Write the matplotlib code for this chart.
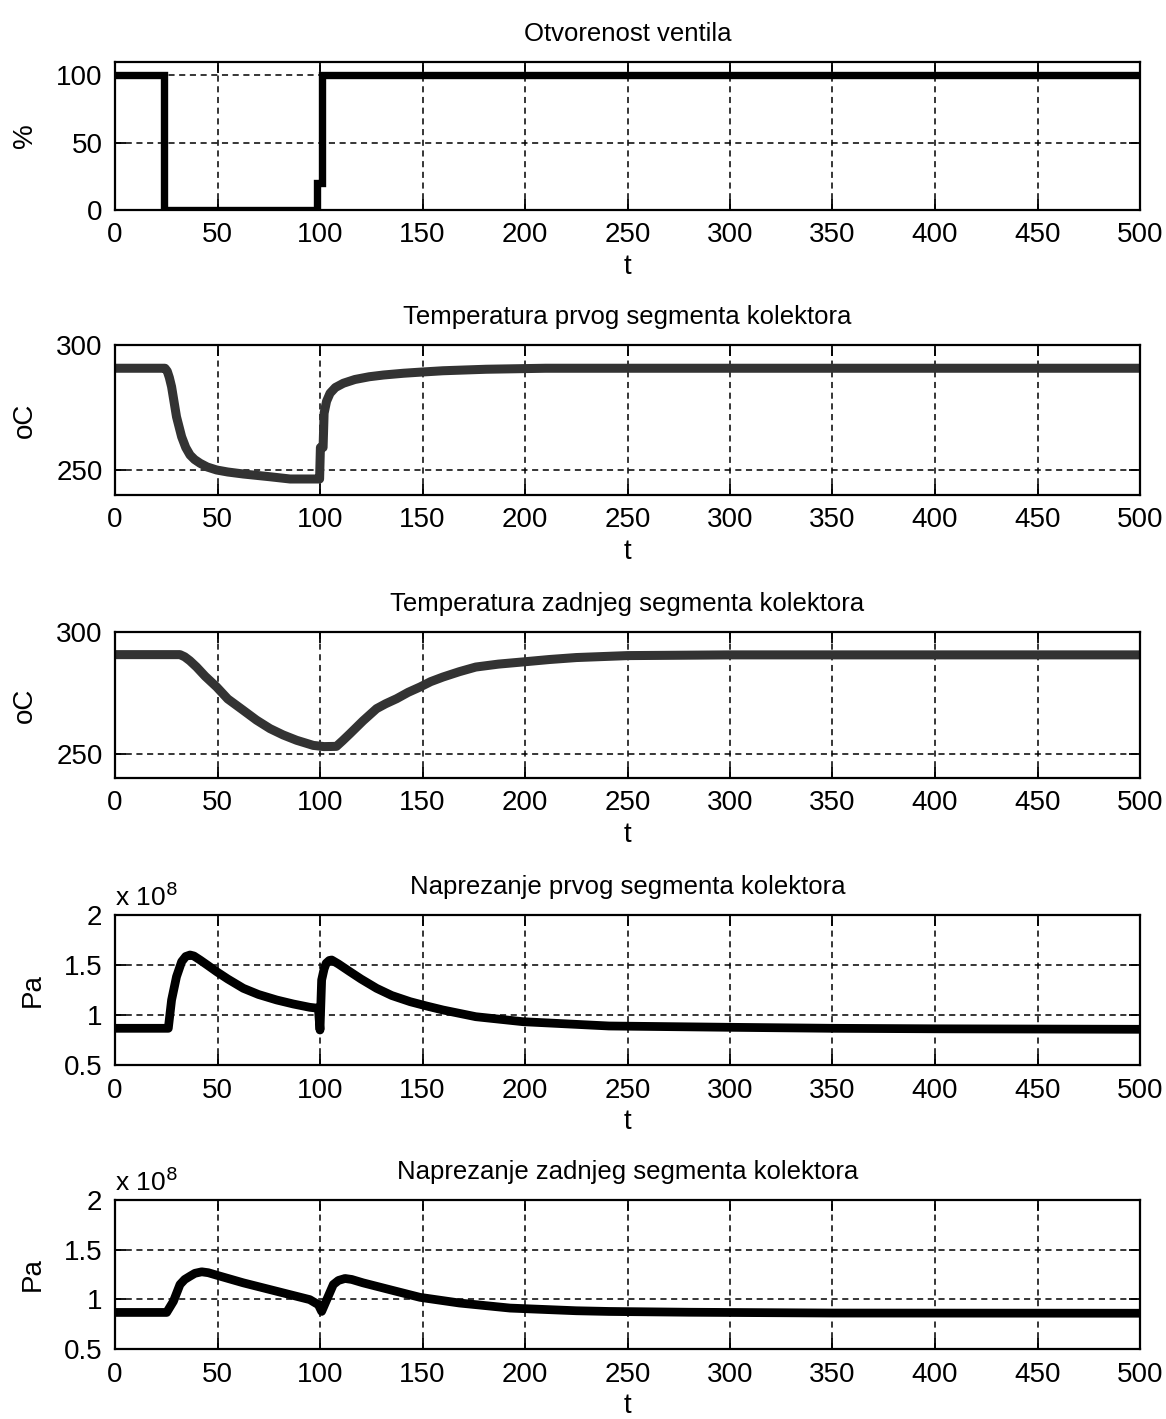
import matplotlib
matplotlib.use("Agg")
import matplotlib.pyplot as plt
import numpy as np
from matplotlib.ticker import FuncFormatter

plt.rcParams['font.family'] = ['Liberation Sans', 'DejaVu Sans']

# otvorenost ventila (%)
t_valve = [0, 24, 24, 98.5, 98.5, 101, 101, 500]
valve = [100, 100, 0, 0, 20, 20, 100, 100]

# temperatura prvog segmenta (oC)
t_temp1 = [0, 24.4, 25.5, 26.5, 27.6, 30, 32.5, 34.5, 36.6, 38.8, 41.5, 45, 49.6, 55, 62.6,
           75.6, 85.4, 98.4, 99.8, 100.2, 101.5, 102, 103.2, 104.9, 107.5, 111.4, 117, 124,
           131, 140.7, 150, 160, 181, 210, 300, 400, 500]
temp1 = [290.7, 290.7, 289.5, 287, 283.3, 271.3, 263.3, 259, 256, 254.2, 252.7, 251.2, 250,
         249.2, 248.4, 247.3, 246.4, 246.4, 246.4, 259, 259, 272.7, 277.5, 280.7, 283, 284.7,
         286.2, 287.3, 288, 288.7, 289.2, 289.7, 290.3, 290.7, 290.7, 290.7, 290.7]

# temperatura zadnjeg segmenta (oC)
t_temp2 = [0, 31.7, 34, 36.5, 39.8, 44, 49.6, 55, 62.6, 69, 75.6, 82, 88.6, 96.7, 102, 108,
           111, 114.6, 121, 127.6, 132, 137.4, 143, 148.8, 154, 160, 168, 176, 187, 199, 212,
           225, 250, 300, 400, 500]
temp2 = [290.7, 290.7, 289.8, 288.2, 285.6, 281.8, 277.4, 272.5, 267.8, 263.8, 260.3, 257.7,
         255.5, 253.4, 252.9, 253, 255.3, 258.2, 263.5, 268.5, 270.5, 272.6, 275.2, 277.4, 279.6,
         281.5, 283.7, 285.6, 286.8, 287.7, 288.7, 289.5, 290.3, 290.6, 290.6, 290.6]

# naprezanje prvog segmenta (x 1e8 Pa)
t_str1 = [0, 26, 27.6, 30, 32.5, 34.5, 36.6, 38.5, 41.5, 45, 49.6, 55, 62.6, 70, 78.9, 87,
          95, 99.2, 100, 100.8, 102, 103, 104.5, 105.7, 109, 114.6, 120, 127.6, 135, 144, 152,
          160, 176, 199, 241, 300, 350, 400, 500]
str1 = [0.867, 0.867, 1.15, 1.383, 1.533, 1.585, 1.6, 1.59, 1.55, 1.5, 1.433, 1.36, 1.267,
        1.205, 1.15, 1.11, 1.077, 1.067, 0.85, 1.35, 1.46, 1.517, 1.545, 1.55, 1.51, 1.433,
        1.36, 1.267, 1.195, 1.133, 1.09, 1.05, 0.983, 0.933, 0.89, 0.877, 0.867, 0.862, 0.857]

# naprezanje zadnjeg segmenta (x 1e8 Pa)
t_str2 = [0, 25.2, 28.5, 31.7, 34, 36.6, 39, 42.3, 45.5, 49.6, 62.6, 78.9, 95, 99.2, 100.8,
          103.3, 106.5, 109, 112.2, 115.5, 121, 135.8, 148.8, 168, 192.7, 225, 241, 280, 350, 500]
str2 = [0.868, 0.868, 0.98, 1.149, 1.2, 1.233, 1.262, 1.277, 1.268, 1.243, 1.166, 1.081,
        0.997, 0.946, 0.878, 0.997, 1.149, 1.19, 1.21, 1.2, 1.166, 1.088, 1.02, 0.963, 0.912,
        0.885, 0.878, 0.87, 0.862, 0.86]

titles = ["Otvorenost ventila",
          "Temperatura prvog segmenta kolektora",
          "Temperatura zadnjeg segmenta kolektora",
          "Naprezanje prvog segmenta kolektora",
          "Naprezanje zadnjeg segmenta kolektora"]
ylabels = ["%", "oC", "oC", "Pa", "Pa"]
xticks = list(range(0, 501, 50))

fig = plt.figure(figsize=(11.66, 14.19), dpi=100)
W, H = 1166.0, 1419.0
rows = [(62, 210), (345, 495), (632, 778), (915, 1065), (1200, 1349)]

series = [
    (t_valve, np.array(valve), 'k', 5.3, (0, 110), [0, 50, 100], 'miter'),
    (t_temp1, np.array(temp1), '#333333', 6.5, (240, 300), [250, 300], 'round'),
    (t_temp2, np.array(temp2), '#333333', 6.5, (240, 300), [250, 300], 'round'),
    (t_str1, np.array(str1) * 1e8, 'k', 6.3, (0.5e8, 2e8), [0.5e8, 1e8, 1.5e8, 2e8], 'round'),
    (t_str2, np.array(str2) * 1e8, 'k', 6.3, (0.5e8, 2e8), [0.5e8, 1e8, 1.5e8, 2e8], 'round'),
]

for i, (top, bot) in enumerate(rows):
    ax = fig.add_axes([115 / W, 1 - bot / H, 1025 / W, (bot - top) / H])
    t, y, col, lw, ylim, yt, js = series[i]
    ax.plot(t, y, color=col, linewidth=lw, solid_joinstyle=js)
    ax.set_xlim(0, 500)
    ax.set_ylim(*ylim)
    ax.set_xticks(xticks)
    ax.set_yticks(yt)
    if i >= 3:
        ax.yaxis.set_major_formatter(FuncFormatter(lambda v, _: f'{v / 1e8:g}'))
        ax.text(0.0, 1.03, r'x 10$^{8}$', transform=ax.transAxes, fontsize=19,
                ha='left', va='bottom')
    ax.grid(True, color='k', linewidth=1.1, linestyle=(0, (4, 3)))
    ax.tick_params(direction='in', top=True, right=True, length=8, width=1.3,
                   labelsize=20, pad=9)
    for s in ax.spines.values():
        s.set_linewidth(1.6)
    ax.set_title(titles[i], fontsize=18.5, pad=15)
    ax.set_xlabel("t", fontsize=20, labelpad=4)
    ax.set_ylabel(ylabels[i], fontsize=20, labelpad=13)

fig.savefig("out.png", dpi=100)
